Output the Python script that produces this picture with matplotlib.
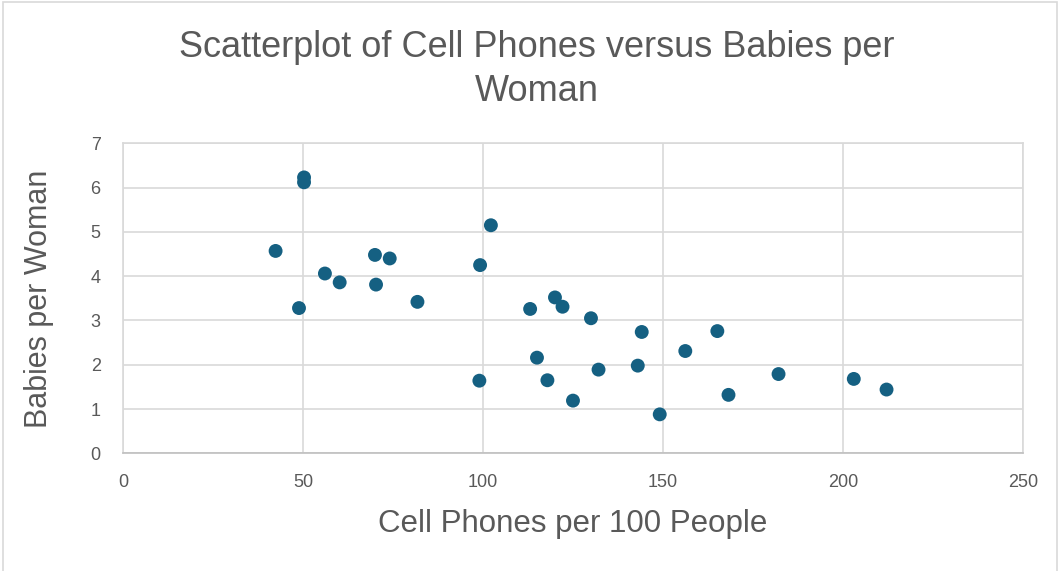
import matplotlib
matplotlib.use("Agg")
import matplotlib.pyplot as plt
from matplotlib.patches import Rectangle

# Cell phones per 100 people vs babies per woman
phones = [42.4, 50.3, 50.3, 48.9, 56.1, 60.2, 70.0, 74.1, 70.3, 81.8,
          102.2, 99.2, 99.0, 113.1, 120.0, 122.1, 130.0, 115.0, 117.9, 125.0,
          132.1, 144.1, 143.0, 149.1, 156.2, 165.1, 168.2, 182.1, 203.0, 212.1]
babies = [4.57, 6.23, 6.12, 3.28, 4.06, 3.86, 4.48, 4.40, 3.81, 3.42,
          5.15, 4.25, 1.64, 3.26, 3.52, 3.31, 3.05, 2.16, 1.65, 1.19,
          1.89, 2.74, 1.98, 0.88, 2.31, 2.76, 1.32, 1.79, 1.68, 1.44]

x_ticks = [0, 50, 100, 150, 200, 250]
y_ticks = [0, 1, 2, 3, 4, 5, 6, 7]

TEXT = "#595959"
GRID = "#d9d9d9"
plt.rcParams["font.family"] = ["Liberation Sans", "DejaVu Sans"]

fig = plt.figure(figsize=(10.59, 5.71), dpi=100)
ax = fig.add_axes([0.1161, 0.2061, 0.966 - 0.1161, 0.749 - 0.2061])

ax.scatter(phones, babies, s=100, color="#156082", edgecolors="none", zorder=3)

ax.set_xlim(0, 250)
ax.set_ylim(0, 7)
ax.set_xticks(x_ticks)
ax.set_yticks(y_ticks)
ax.grid(True, color=GRID, lw=1.2, zorder=0)
for side in ("top", "right", "left"):
    ax.spines[side].set_color(GRID)
    ax.spines[side].set_linewidth(1.2)
ax.spines["bottom"].set_color("#bfbfbf")
ax.spines["bottom"].set_linewidth(1.2)
ax.tick_params(length=0, labelsize=13, labelcolor=TEXT)
ax.tick_params(axis="x", pad=15)
ax.tick_params(axis="y", pad=16)

ax.set_xlabel("Cell Phones per 100 People", fontsize=22.5, color=TEXT, labelpad=13)
ax.set_ylabel("Babies per Woman", fontsize=22, color=TEXT, labelpad=26)

fig.text(0.507, 0.879, "Scatterplot of Cell Phones versus Babies per\nWoman",
         ha="center", va="center", fontsize=26, color=TEXT, linespacing=1.33)

# chart-area border
fig.patches.append(Rectangle((0.003, -0.01), 0.995, 1.0 - 0.004 + 0.01,
                             transform=fig.transFigure, fill=False,
                             edgecolor=GRID, lw=1.2))

fig.savefig("out.png", dpi=100)
